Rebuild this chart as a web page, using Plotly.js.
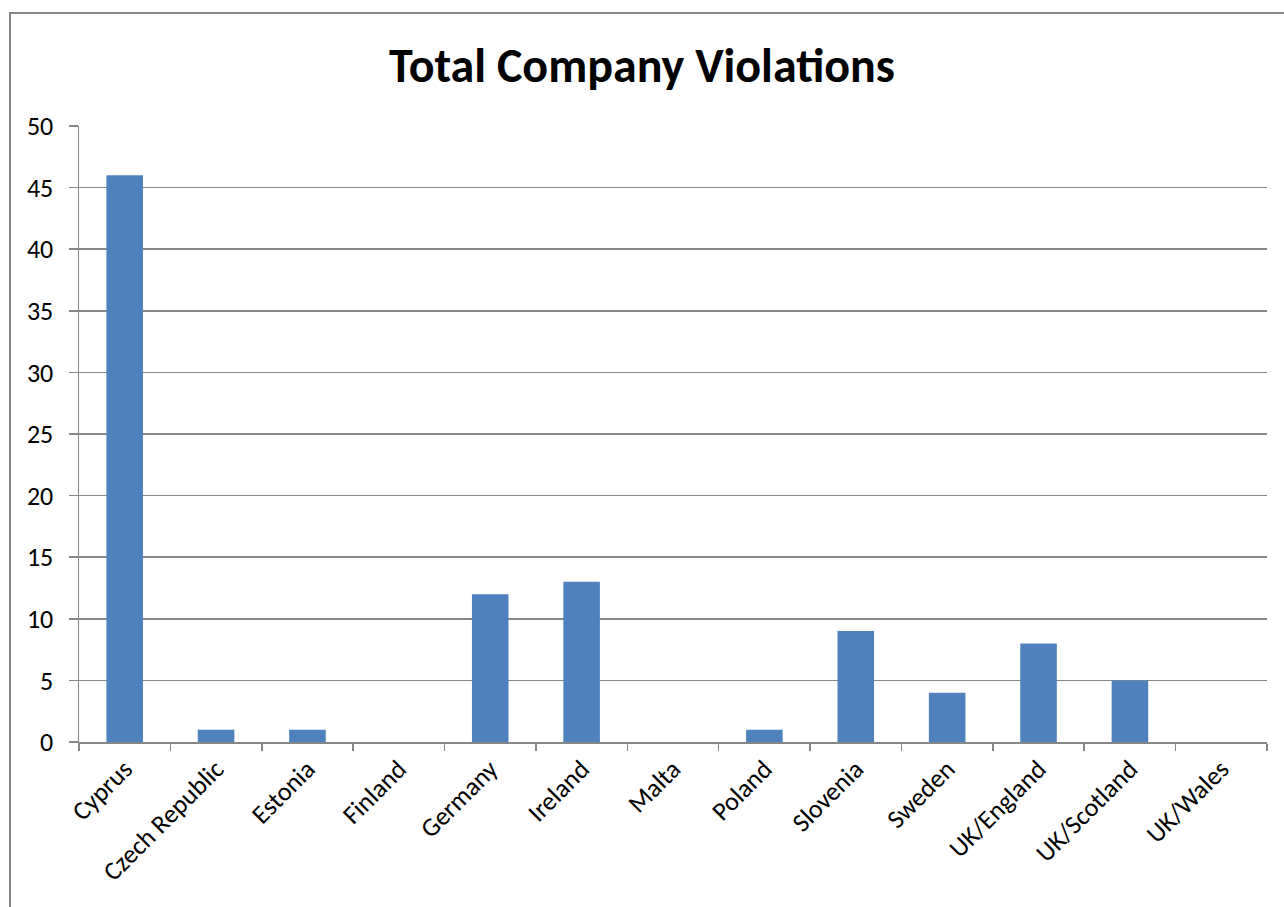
<!DOCTYPE html>
<html>
<head>
<meta charset="utf-8">
<script src="https://cdn.plot.ly/plotly-3.0.1.min.js"></script>
<style>html,body{margin:0;padding:0;background:#fff;}#chart{width:1284px;height:907px;}</style>
</head>
<body>
<div id="chart"></div>
<script>
const categories = ["Cyprus","Czech Republic","Estonia","Finland","Germany","Ireland","Malta","Poland","Slovenia","Sweden","UK/England","UK/Scotland","UK/Wales"];
const violations = [46,1,1,0,12,13,0,1,9,4,8,5,0];
const yTickVals = [0,5,10,15,20,25,30,35,40,45,50];

const font = "Carlito, Calibri, Lato, 'Open Sans', sans-serif";
const trace = {
  type: 'bar', x: categories, y: violations,
  marker: {color: '#4f81bd'}, hoverinfo: 'x+y'
};
const layout = {
  width: 1284, height: 907,
  margin: {l: 79, r: 17, t: 126, b: 165},
  paper_bgcolor: '#fff', plot_bgcolor: '#fff',
  bargap: 0.6,
  showlegend: false,
  title: {text: '<b>Total Company Violations</b>', font: {family: font, size: 48, color: '#000'},
          x: 0.5, xanchor: 'center', xref: 'container', y: 1 - 65/907, yanchor: 'middle', yref: 'container'},
  xaxis: {
    type: 'category', tickangle: -45, tickson: 'boundaries', ticks: 'outside', ticklen: 7,
    tickcolor: '#868686', tickwidth: 1.5, showline: true, linecolor: '#868686', linewidth: 1.5,
    tickfont: {family: font, size: 26, color: '#000'}, showgrid: false, automargin: false
  },
  yaxis: {
    range: [0, 50], tickvals: yTickVals, ticks: 'outside', ticklen: 9, tickcolor: '#868686', tickwidth: 1.5,
    showline: true, linecolor: '#868686', linewidth: 1.5, showgrid: true, gridcolor: '#868686', gridwidth: 1.5,
    zeroline: false, tickfont: {family: font, size: 26, color: '#000'}, automargin: false,
    ticklabelstandoff: 10
  },
  shapes: [{type: 'rect', xref: 'paper', yref: 'paper', x0: (10-79)/1188, x1: 1.2, y0: -0.5, y1: (742-13)/616,
            line: {color: '#868686', width: 2}, fillcolor: 'rgba(0,0,0,0)', layer: 'below'}]
};
Plotly.newPlot('chart', [trace], layout, {displayModeBar: false, staticPlot: true});
</script>
</body>
</html>
